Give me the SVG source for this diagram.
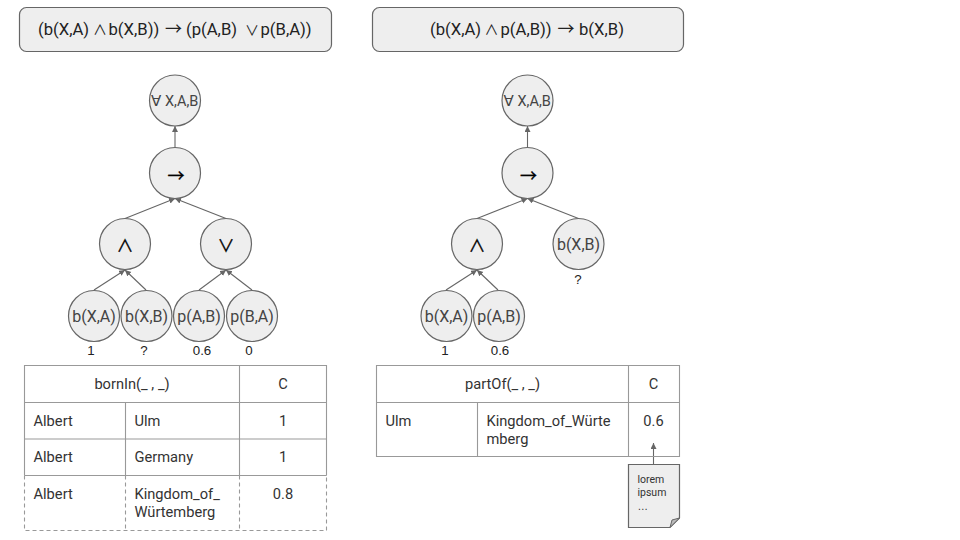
<svg xmlns="http://www.w3.org/2000/svg" width="960" height="540" viewBox="0 0 960 540">
<style>
text{font-family:Roboto,"Liberation Sans",sans-serif;fill:#333;}
.n{fill:#eee;stroke:#666;stroke-width:1.2;}
.c{font-size:16px;fill:#444;text-anchor:middle;}
.s{font-family:"Noto Sans CJK SC",sans-serif;font-size:17px;fill:#000;stroke:#000;stroke-width:.3;text-anchor:middle;}
.q{font-family:"Noto Sans CJK SC",sans-serif;}
.f{font-size:16.670px;fill:#222;}
.v{font-family:"Liberation Sans",sans-serif;font-size:13.300px;fill:#222;text-anchor:middle;}
.t{font-size:14.670px;fill:#333;}
.m{text-anchor:middle;}
.g{stroke:#999;stroke-width:1.1;fill:none;}
.d{stroke-dasharray:4 3;}
.l{stroke:#666;stroke-width:1.1;fill:none;marker-end:url(#a);}
.u{font-family:"DejaVu Sans",sans-serif;font-size:15px;fill:#444;}
.x{font-size:14.500px;fill:#444;}
.o{font-size:10.500px;fill:#333;}
</style>
<defs><marker id="a" markerUnits="userSpaceOnUse" markerWidth="8" markerHeight="8" refX="6" refY="3" orient="auto"><path d="M0 0L6 3L0 6Z" fill="#666"/></marker></defs>
<rect width="960" height="540" fill="#fff"/>
<g id="formula1"><rect class="n" x="19.500" y="7.500" width="312" height="44" rx="7"/>
<text class="f" y="35"><tspan x="38">(b(X,A)</tspan><tspan class="q" x="93" font-size="14">∧</tspan><tspan x="108.500">b(X,B))</tspan><tspan class="q" x="165" font-size="17">→</tspan><tspan x="186">(p(A,B)</tspan><tspan class="q" x="245" font-size="14">∨</tspan><tspan x="260.500">p(B,A))</tspan></text></g>
<g id="formula2"><rect class="n" x="372.500" y="7.500" width="311" height="44" rx="7"/>
<text class="f" y="35"><tspan x="430">(b(X,A)</tspan><tspan class="q" x="484.500" font-size="14">∧</tspan><tspan x="500.500">p(A,B))</tspan><tspan class="q" x="557.500" font-size="17">→</tspan><tspan x="579">b(X,B)</tspan></text></g>
<g id="connectors">
<path class="l" d="M175 147.500V126"/><path class="l" d="M125 218.500L175 198.500"/><path class="l" d="M226 218.500L175 198.500"/>
<path class="l" d="M94 290L125 270"/><path class="l" d="M146 290L125 270"/><path class="l" d="M199 290L226 270"/><path class="l" d="M252 290L226 270"/>
<path class="l" d="M527.500 147.500V126"/><path class="l" d="M477 218.500L527.500 198.500"/><path class="l" d="M578.500 218.500L527.500 198.500"/>
<path class="l" d="M446 290L477 270"/><path class="l" d="M498 290L477 270"/>
<path class="l" d="M653.500 464V443"/>
</g>
<g id="n1"><circle class="n" cx="175" cy="100.500" r="25.500"/><text class="u" x="151" y="105.500">∀</text><text class="x" x="165" y="105.500">X,A,B</text></g>
<g id="n2"><circle class="n" cx="175" cy="173" r="25.500"/><text class="s" x="176" y="181.500">→</text></g>
<g id="n3"><circle class="n" cx="125" cy="244" r="25.500"/><text class="s" x="125" y="252">∧</text></g>
<g id="n4"><circle class="n" cx="226" cy="244" r="25.500"/><text class="s" x="226" y="252">∨</text></g>
<g id="n5"><circle class="n" cx="94" cy="316" r="25.500"/><text class="c" x="94" y="321.500">b(X,A)</text><text class="v" x="91" y="355">1</text></g>
<g id="n6"><circle class="n" cx="146.500" cy="316" r="25.500"/><text class="c" x="146.500" y="321.500">b(X,B)</text><text class="v" x="144" y="355">?</text></g>
<g id="n7"><circle class="n" cx="199" cy="316" r="25.500"/><text class="c" x="199" y="321.500">p(A,B)</text><text class="v" x="202" y="355">0.6</text></g>
<g id="n8"><circle class="n" cx="252" cy="316" r="25.500"/><text class="c" x="252" y="321.500">p(B,A)</text><text class="v" x="249" y="355">0</text></g>
<g id="m1"><circle class="n" cx="527.500" cy="100.500" r="25.500"/><text class="u" x="503.500" y="105.500">∀</text><text class="x" x="517.500" y="105.500">X,A,B</text></g>
<g id="m2"><circle class="n" cx="527.500" cy="173" r="25.500"/><text class="s" x="528.500" y="181.500">→</text></g>
<g id="m3"><circle class="n" cx="477" cy="244" r="25.500"/><text class="s" x="477" y="252">∧</text></g>
<g id="m4"><circle class="n" cx="578.500" cy="244" r="25.500"/><text class="c" x="578.500" y="249.500">b(X,B)</text><text class="v" x="578" y="284">?</text></g>
<g id="m5"><circle class="n" cx="446.500" cy="316" r="25.500"/><text class="c" x="446.500" y="321.500">b(X,A)</text><text class="v" x="445" y="355">1</text></g>
<g id="m6"><circle class="n" cx="499" cy="316" r="25.500"/><text class="c" x="499" y="321.500">p(A,B)</text><text class="v" x="500" y="355">0.6</text></g>
<g id="table1">
<path class="g" d="M24.500 475.500V365.500H326.500V475.500M24.500 402.500H326.500M24.500 439H326.500M24.500 475.500H326.500M125.500 402.500V475.500M239.500 365.500V475.500"/>
<path class="g d" d="M24.500 475.500V530.500H326.500V475.500M125.500 475.500V530.500M239.500 475.500V530.500"/>
<text class="t m" x="132" y="389">bornIn(_ , _)</text><text class="t m" x="283" y="389">C</text>
<text class="t" x="33.500" y="425.500">Albert</text><text class="t" x="134.500" y="425.500">Ulm</text><text class="t m" x="283" y="425.500">1</text>
<text class="t" x="33.500" y="462">Albert</text><text class="t" x="134.500" y="462">Germany</text><text class="t m" x="283" y="462">1</text>
<text class="t" x="33.500" y="499">Albert</text><text class="t" x="134.500" y="499">Kingdom_of_</text><text class="t" x="134.500" y="517">Würtemberg</text><text class="t m" x="283" y="499">0.8</text>
</g>
<g id="table2">
<path class="g" d="M376.500 365.500H679.500V456.500H376.500ZM376.500 402.500H679.500M477.500 402.500V456.500M628.500 365.500V456.500"/>
<text class="t m" x="502.500" y="389">partOf(_ , _)</text><text class="t m" x="653.500" y="389">C</text>
<text class="t" x="385.500" y="425.500">Ulm</text><text class="t" x="486.500" y="425.500">Kingdom_of_Würte</text><text class="t" x="486.500" y="443.500">mberg</text><text class="t m" x="653.500" y="425.500">0.6</text>
</g>
<g id="doc"><path class="n" d="M628.500 464.500H679.500V518L670 527.500H628.500Z"/><path d="M670 527.500L672 520L679.500 518Z" fill="#bbb" stroke="#666" stroke-width="1"/>
<text class="o" x="637.500" y="483">lorem</text><text class="o" x="637.500" y="496">ipsum</text><text class="o" x="637.500" y="510" style="font-family:'Liberation Sans',sans-serif">…</text></g>
</svg>
